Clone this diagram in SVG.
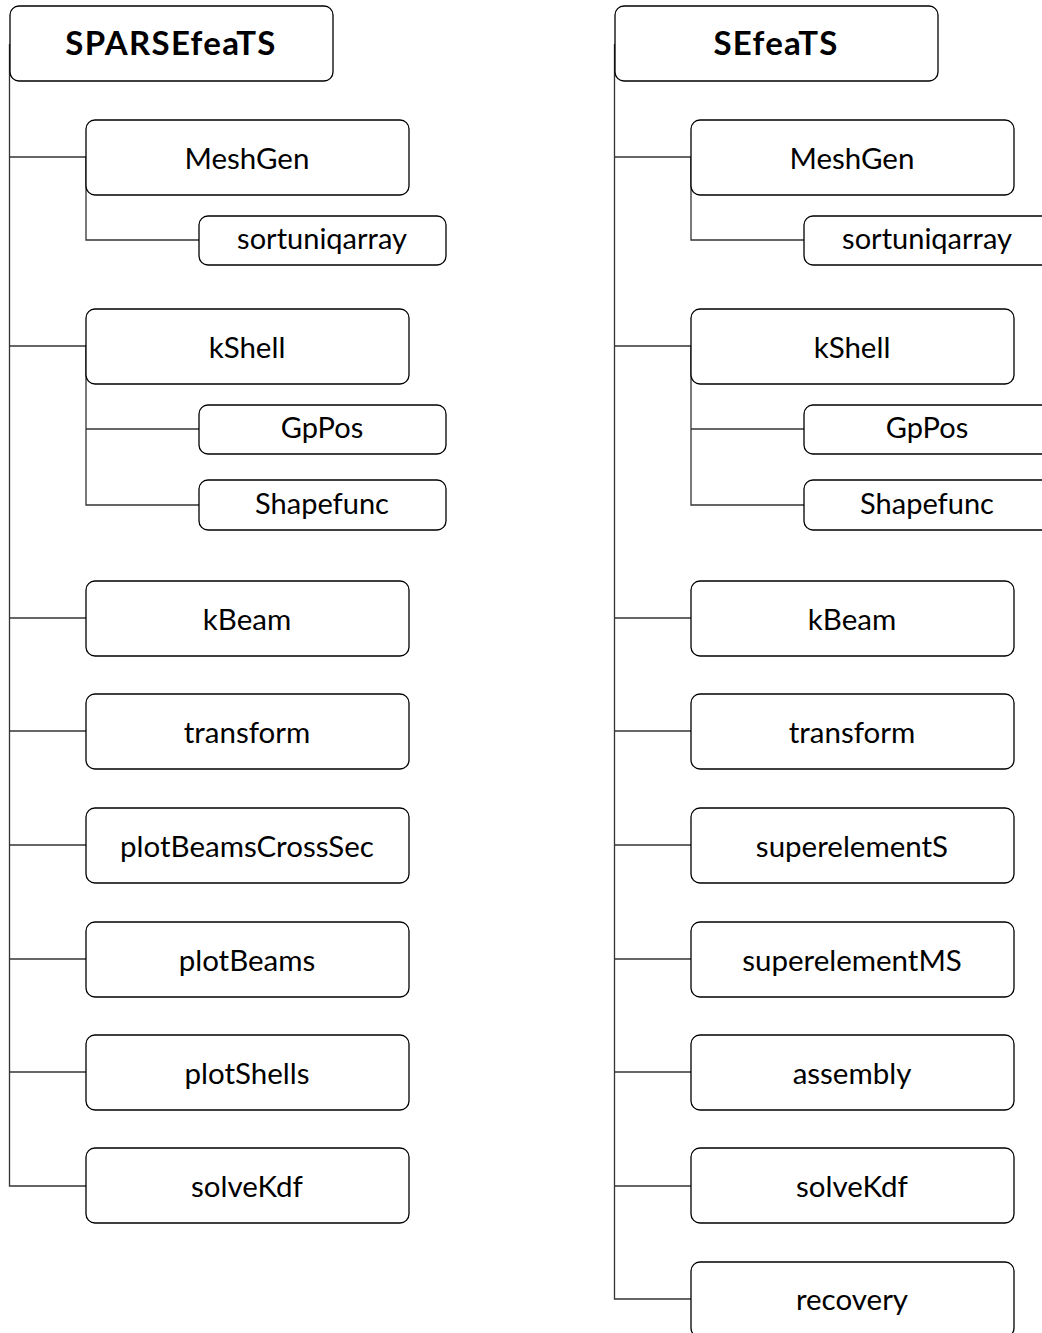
<svg xmlns="http://www.w3.org/2000/svg" width="1042" height="1333" viewBox="0 0 1042 1333">
  <style>
    .box { fill: #ffffff; stroke: #000000; stroke-width: 1.3; }
    .lbl { font-family: Lato, "Open Sans", "Liberation Sans", sans-serif; font-size: 29.5px; fill: #000000; text-anchor: middle; }
    .sub { font-size: 29px; }
    .root { font-weight: bold; font-size: 33px; letter-spacing: 1.3px; }
    .edge { fill: none; stroke: #333333; stroke-width: 1.3; }
  </style>

  <!-- connectors -->
  <g id="connectors">
    <!-- left tree -->
    <path class="edge" d="M9.5,44 V1186 H86"/>
    <path class="edge" d="M9.5,157 H86"/>
    <path class="edge" d="M9.5,346 H86"/>
    <path class="edge" d="M9.5,618 H86"/>
    <path class="edge" d="M9.5,731 H86"/>
    <path class="edge" d="M9.5,845 H86"/>
    <path class="edge" d="M9.5,959 H86"/>
    <path class="edge" d="M9.5,1072 H86"/>
    <path class="edge" d="M86,157 V240 H199"/>
    <path class="edge" d="M86,346 V505 H199"/>
    <path class="edge" d="M86,429 H199"/>
    <!-- right tree -->
    <path class="edge" d="M614.5,44 V1299 H691"/>
    <path class="edge" d="M614.5,157 H691"/>
    <path class="edge" d="M614.5,346 H691"/>
    <path class="edge" d="M614.5,618 H691"/>
    <path class="edge" d="M614.5,731 H691"/>
    <path class="edge" d="M614.5,845 H691"/>
    <path class="edge" d="M614.5,959 H691"/>
    <path class="edge" d="M614.5,1072 H691"/>
    <path class="edge" d="M614.5,1186 H691"/>
    <path class="edge" d="M691,157 V240 H804"/>
    <path class="edge" d="M691,346 V505 H804"/>
    <path class="edge" d="M691,429 H804"/>
  </g>

  <!-- left tree nodes -->
  <g id="n-sparsefeats"><rect class="box" x="10" y="6" width="323" height="75" rx="9"/><text class="lbl root" x="171" y="55">SPARSEfeaTS</text></g>
  <g id="n-l-meshgen"><rect class="box" x="86" y="120" width="323" height="75" rx="9"/><text class="lbl" x="247" y="169">MeshGen</text></g>
  <g id="n-l-sortuniqarray"><rect class="box" x="199" y="216" width="247" height="49" rx="9"/><text class="lbl sub" x="322" y="249">sortuniqarray</text></g>
  <g id="n-l-kshell"><rect class="box" x="86" y="309" width="323" height="75" rx="9"/><text class="lbl" x="247" y="358">kShell</text></g>
  <g id="n-l-gppos"><rect class="box" x="199" y="405" width="247" height="49" rx="9"/><text class="lbl sub" x="322" y="438">GpPos</text></g>
  <g id="n-l-shapefunc"><rect class="box" x="199" y="480" width="247" height="50" rx="9"/><text class="lbl sub" x="322" y="514">Shapefunc</text></g>
  <g id="n-l-kbeam"><rect class="box" x="86" y="581" width="323" height="75" rx="9"/><text class="lbl" x="247" y="630">kBeam</text></g>
  <g id="n-l-transform"><rect class="box" x="86" y="694" width="323" height="75" rx="9"/><text class="lbl" x="247" y="743">transform</text></g>
  <g id="n-l-plotbeamscrosssec"><rect class="box" x="86" y="808" width="323" height="75" rx="9"/><text class="lbl" x="247" y="857">plotBeamsCrossSec</text></g>
  <g id="n-l-plotbeams"><rect class="box" x="86" y="922" width="323" height="75" rx="9"/><text class="lbl" x="247" y="971">plotBeams</text></g>
  <g id="n-l-plotshells"><rect class="box" x="86" y="1035" width="323" height="75" rx="9"/><text class="lbl" x="247" y="1084">plotShells</text></g>
  <g id="n-l-solvekdf"><rect class="box" x="86" y="1148" width="323" height="75" rx="9"/><text class="lbl" x="247" y="1197">solveKdf</text></g>

  <!-- right tree nodes -->
  <g id="n-sefeats"><rect class="box" x="615" y="6" width="323" height="75" rx="9"/><text class="lbl root" x="776" y="55">SEfeaTS</text></g>
  <g id="n-r-meshgen"><rect class="box" x="691" y="120" width="323" height="75" rx="9"/><text class="lbl" x="852" y="169">MeshGen</text></g>
  <g id="n-r-sortuniqarray"><rect class="box" x="804" y="216" width="247" height="49" rx="9"/><text class="lbl sub" x="927" y="249">sortuniqarray</text></g>
  <g id="n-r-kshell"><rect class="box" x="691" y="309" width="323" height="75" rx="9"/><text class="lbl" x="852" y="358">kShell</text></g>
  <g id="n-r-gppos"><rect class="box" x="804" y="405" width="247" height="49" rx="9"/><text class="lbl sub" x="927" y="438">GpPos</text></g>
  <g id="n-r-shapefunc"><rect class="box" x="804" y="480" width="247" height="50" rx="9"/><text class="lbl sub" x="927" y="514">Shapefunc</text></g>
  <g id="n-r-kbeam"><rect class="box" x="691" y="581" width="323" height="75" rx="9"/><text class="lbl" x="852" y="630">kBeam</text></g>
  <g id="n-r-transform"><rect class="box" x="691" y="694" width="323" height="75" rx="9"/><text class="lbl" x="852" y="743">transform</text></g>
  <g id="n-r-superelements"><rect class="box" x="691" y="808" width="323" height="75" rx="9"/><text class="lbl" x="852" y="857">superelementS</text></g>
  <g id="n-r-superelementms"><rect class="box" x="691" y="922" width="323" height="75" rx="9"/><text class="lbl" x="852" y="971">superelementMS</text></g>
  <g id="n-r-assembly"><rect class="box" x="691" y="1035" width="323" height="75" rx="9"/><text class="lbl" x="852" y="1084">assembly</text></g>
  <g id="n-r-solvekdf"><rect class="box" x="691" y="1148" width="323" height="75" rx="9"/><text class="lbl" x="852" y="1197">solveKdf</text></g>
  <g id="n-r-recovery"><rect class="box" x="691" y="1262" width="323" height="75" rx="9"/><text class="lbl" x="852" y="1310">recovery</text></g>
</svg>
